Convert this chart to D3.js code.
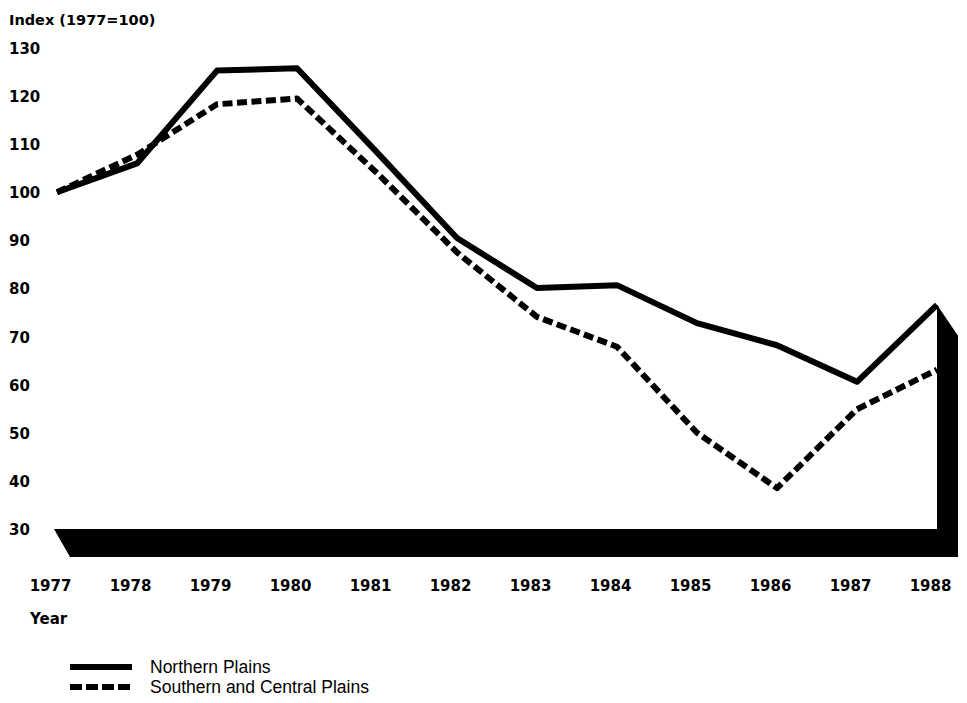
<!DOCTYPE html>
<html>
<head>
<meta charset="utf-8">
<script src="https://cdn.jsdelivr.net/npm/d3@7"></script>
<style>
  body { margin: 0; background: #fff; }
  svg { font-family: "Liberation Sans", Arial, Helvetica, sans-serif; }
  .bold { font-family: "DejaVu Sans", "Liberation Sans", Arial, sans-serif; font-weight: bold; }
</style>
</head>
<body>
<div id="chart"></div>
<script>
"use strict";

// values (index, 1977 = 100)
let years = [1977, 1978, 1979, 1980, 1981, 1982, 1983, 1984, 1985, 1986, 1987, 1988];
let northern = [100, 106, 125.3, 125.8, 108.3, 90.5, 80.1, 80.7, 72.8, 68.2, 60.6, 76.6];
let southern = [100, 107.8, 118.3, 119.5, 104, 87.5, 74.1, 67.9, 50, 38.5, 54.9, 63.1];
let yTicks = [30, 40, 50, 60, 70, 80, 90, 100, 110, 120, 130];
let seriesNames = ["Northern Plains", "Southern and Central Plains"];

var width = 967,
    height = 703;

var x = d3.scaleLinear().domain([1977, 1988]).range([57, 937]);
var y = d3.scaleLinear().domain([30, 130]).range([529, 48]);

var svg = d3.select('#chart').append('svg')
  .attr('width', width)
  .attr('height', height)
  .style('background', '#fff');

// 3-d "floor" and right wall in solid black
var last = years.length - 1;
var floorPts = [
  [x(years[0]) - 3, y(30)],
  [x(years[last]), y(30)],
  [x(years[last]), y(northern[last])],
  [x(years[last]) + 21, y(northern[last]) + 31],
  [x(years[last]) + 21, y(30) + 28],
  [x(years[0]) + 13, y(30) + 28]
];
svg.append('path')
  .attr('d', d3.line()(floorPts) + 'Z')
  .style('fill', '#000');

// y axis labels, no line
var yAxis = svg.append('g')
  .call(d3.axisLeft(y).tickValues(yTicks).tickSize(0).tickFormat(d3.format('d')));
yAxis.select('.domain').remove();
yAxis.selectAll('text')
  .attr('class', 'bold')
  .attr('x', 9)
  .attr('dy', '0.36em')
  .style('text-anchor', 'start')
  .style('font-size', '15px')
  .style('fill', '#000');

// x axis labels
var xAxis = svg.append('g')
  .attr('transform', 'translate(0,' + 586 + ')')
  .call(d3.axisBottom(x).tickValues(years).tickSize(0).tickFormat(d3.format('d')));
xAxis.select('.domain').remove();
xAxis.selectAll('text')
  .attr('class', 'bold')
  .attr('x', -7)
  .attr('y', 0)
  .attr('dy', '0.36em')
  .style('font-size', '15px')
  .style('fill', '#000');

svg.append('text')
  .attr('class', 'bold')
  .attr('x', 9)
  .attr('y', 25)
  .style('font-size', '14.5px')
  .text('Index (1977=100)');

svg.append('text')
  .attr('class', 'bold')
  .attr('x', 30)
  .attr('y', 624)
  .style('font-size', '15px')
  .text('Year');

var line = d3.line()
  .x(function(d, i) { return x(years[i]); })
  .y(function(d) { return y(d); });

svg.append('path')
  .datum(southern)
  .attr('d', line)
  .style('fill', 'none')
  .style('stroke', '#000')
  .style('stroke-width', 6)
  .style('stroke-dasharray', '10,4.5')
  .style('stroke-linejoin', 'round');

svg.append('path')
  .datum(northern)
  .attr('d', line)
  .style('fill', 'none')
  .style('stroke', '#000')
  .style('stroke-width', 6)
  .style('stroke-linejoin', 'round');

// legend
var legend = svg.append('g').attr('transform', 'translate(70,667)');
var legendItems = legend.selectAll('g').data(seriesNames)
  .enter().append('g')
  .attr('transform', function(d, i) { return 'translate(0,' + (i * 20) + ')'; });

legendItems.append('line')
  .attr('x1', 0)
  .attr('x2', 62)
  .style('stroke', '#000')
  .style('stroke-width', 6)
  .style('stroke-dasharray', function(d, i) { return i ? '12,4' : null; });

legendItems.append('text')
  .attr('x', 80)
  .attr('dy', '0.36em')
  .style('font-size', '17.5px')
  .text(function(d) { return d; });
</script>
</body>
</html>
